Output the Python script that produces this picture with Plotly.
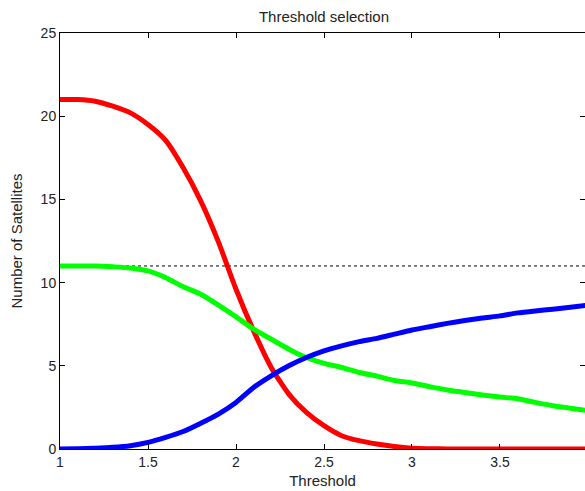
import plotly.graph_objects as go

thresholds = [1.0, 1.1, 1.2, 1.3, 1.4, 1.5, 1.6, 1.7, 1.8, 1.9, 2.0, 2.1, 2.2, 2.3, 2.4, 2.5,
              2.6, 2.7, 2.8, 2.9, 3.0, 3.1, 3.2, 3.3, 3.4, 3.5, 3.6, 3.7, 3.8, 3.9, 4.0]

red_series = [21.0, 21.0, 20.9, 20.6, 20.2, 19.5, 18.55, 16.9, 14.9, 12.45, 9.6, 7.1, 4.9, 3.3,
              2.2, 1.4, 0.8, 0.5, 0.3, 0.15, 0.05, 0.02, 0.0, 0.0, 0.0, 0.0, 0.0, 0.0, 0.0, 0.0, 0.0]

green_series = [11.0, 11.0, 11.0, 10.95, 10.88, 10.7, 10.3, 9.75, 9.3, 8.65, 7.95, 7.2, 6.6, 6.0,
                5.5, 5.15, 4.9, 4.6, 4.38, 4.12, 3.97, 3.75, 3.55, 3.4, 3.25, 3.12, 3.02, 2.8,
                2.6, 2.45, 2.3]

blue_series = [0.0, 0.02, 0.05, 0.1, 0.2, 0.4, 0.7, 1.05, 1.55, 2.1, 2.8, 3.7, 4.4, 5.0, 5.5,
               5.9, 6.2, 6.45, 6.65, 6.9, 7.15, 7.35, 7.55, 7.72, 7.87, 8.0, 8.18, 8.3, 8.4,
               8.52, 8.65]

reference_level = 11
x_ticks = [1, 1.5, 2, 2.5, 3, 3.5, 4]
y_ticks = [0, 5, 10, 15, 20, 25]

fig = go.Figure()
fig.add_trace(go.Scatter(x=[thresholds[0], thresholds[-1]], y=[reference_level, reference_level],
                         mode="lines", line=dict(color="black", width=1, dash="dot"),
                         showlegend=False))
for ys, col in [(red_series, "#ff0000"), (green_series, "#00ff00"), (blue_series, "#0000ff")]:
    fig.add_trace(go.Scatter(x=thresholds, y=ys, mode="lines",
                             line=dict(color=col, width=5, shape="spline", smoothing=0.6),
                             showlegend=False))

font = dict(family="Liberation Sans, Arial, sans-serif", size=14, color="#222222")
fig.update_layout(
    width=585, height=491,
    margin=dict(l=60, r=0, t=33, b=42),
    plot_bgcolor="white", paper_bgcolor="white",
    font=font,
    title=dict(text="Threshold selection", x=(60 + 588) / 2 / 585, xanchor="center",
               y=1 - 17 / 491, yanchor="middle", font=dict(size=15)),
)
fig.update_xaxes(range=[1, 3.983], tickvals=x_ticks, ticktext=[str(t) for t in x_ticks],
                 showgrid=False, zeroline=False, showline=True, linecolor="black", linewidth=1,
                 mirror="ticks", ticks="inside", ticklen=5, tickcolor="black",
                 tickfont=dict(size=14),
                 title=dict(text="Threshold", standoff=6, font=dict(size=15)))
fig.update_yaxes(range=[0, 25], tickvals=y_ticks, showgrid=False, zeroline=False,
                 showline=True, linecolor="black", linewidth=1, mirror="ticks",
                 ticks="inside", ticklen=5, tickcolor="black",
                 tickfont=dict(size=14),
                 title=dict(text="Number of Satellites", standoff=14, font=dict(size=15)))

fig.write_html("out.html")
